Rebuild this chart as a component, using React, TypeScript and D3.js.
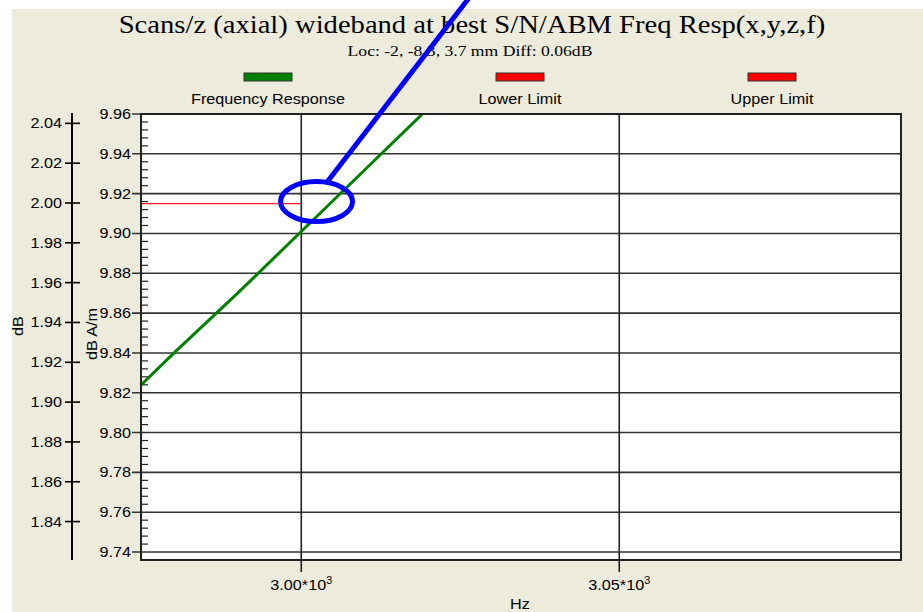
import React from 'react';
import * as d3 from 'd3';

// frequency response (Hz, dB A/m)
const freqHz = [2970, 2980, 2990, 3000, 3010, 3020];
const respDbAm = [9.809, 9.84, 9.87, 9.901, 9.932, 9.963];

// lower limit, drawn up to 3 kHz
const lowerFreq = [2960, 3000];
const lowerDbAm = [9.915, 9.915];

const yTicks = [9.74, 9.76, 9.78, 9.8, 9.82, 9.84, 9.86, 9.88, 9.9, 9.92, 9.94, 9.96];
const dbTicks = [1.84, 1.86, 1.88, 1.9, 1.92, 1.94, 1.96, 1.98, 2.0, 2.02, 2.04];
const xTicks = [3000, 3050];
const xTickLabels = ['3.00*10', '3.05*10'];

const legendNames = ['Frequency Response', 'Lower Limit', 'Upper Limit'];
const legendColors = ['#008000', '#ff0000', '#ff0000'];

// hand-drawn blue highlight (Hz, dB A/m)
const markCenter = [3002.4, 9.916];
const markLine = [
  [3004.1, 9.926],
  [3026.3, 10.018],
];

const W = 923;
const H = 612;
const SX = 1.08; // text in the source is stretched sideways
const SANS = '"Liberation Sans", Arial, sans-serif';
const SERIF = '"Liberation Serif", "Times New Roman", serif';

const plot = { left: 141, right: 901, top: 114, bottom: 560 };

const Txt = ({ x, y, size, family = SANS, anchor = 'middle', rotate = 0, sx = SX, children }: any) => (
  <text
    transform={`translate(${x},${y}) rotate(${rotate}) scale(${sx},1)`}
    fontSize={size}
    fontFamily={family}
    textAnchor={anchor}
    fill='#000'
  >
    {children}
  </text>
);

const App = () => {
  const x = d3.scaleLinear().domain([2974.8, 3094.3]).range([plot.left, plot.right]);
  const y = d3.scaleLinear().domain([9.736, 9.96]).range([plot.bottom, plot.top]);
  // dB axis is the same scale shifted so the lower limit sits at 2.00 dB
  const offset = 9.9153 - 2.0;
  const yDb = d3.scaleLinear().domain([9.736 - offset, 9.96 - offset]).range([plot.bottom, plot.top]);

  const line = d3
    .line<[number, number]>()
    .x((d) => x(d[0]))
    .y((d) => y(d[1]));

  const resp = freqHz.map((f, i) => [f, respDbAm[i]] as [number, number]);
  const lower = lowerFreq.map((f, i) => [f, lowerDbAm[i]] as [number, number]);

  // minor ticks every 0.004
  const minor: number[] = [];
  for (let i = 0; i < yTicks.length - 1; i++) {
    for (let k = 1; k < 5; k++) minor.push(yTicks[i] + k * 0.004);
  }

  const legendX = [268, 520, 772];
  const axisDbX = 72;

  return (
    <svg
      width={W}
      height={H}
      style={{ position: 'absolute', left: 0, top: 0, background: '#fff' }}
    >
      <defs>
        <clipPath id='plot-clip'>
          <rect x={plot.left} y={plot.top} width={plot.right - plot.left} height={plot.bottom - plot.top} />
        </clipPath>
      </defs>
      <rect x={12} y={9} width={W - 12} height={H - 9} fill='#ecebdc' />

      <Txt x={472} y={33} size={26} family={SERIF} sx={1.1}>
        Scans/z (axial) wideband at best S/N/ABM Freq Resp(x,y,z,f)
      </Txt>
      <Txt x={470} y={56} size={14} family={SERIF} sx={1.26}>
        Loc: -2, -8.3, 3.7 mm Diff: 0.06dB
      </Txt>

      {legendNames.map((name, i) => (
        <g key={name}>
          <rect x={legendX[i] - 24} y={73} width={48} height={8} fill={legendColors[i]} stroke='#333' strokeWidth={1} />
          <Txt x={legendX[i]} y={104} size={15}>
            {name}
          </Txt>
        </g>
      ))}

      {/* plot area */}
      <rect x={plot.left} y={plot.top} width={plot.right - plot.left} height={plot.bottom - plot.top} fill='#fff' />

      {yTicks.map((t) => (
        <g key={t}>
          <line x1={plot.left - 9} x2={plot.right} y1={y(t)} y2={y(t)} stroke='#333' strokeWidth={1.6} />
          <Txt x={plot.left - 10} y={y(t) + 5} size={15} anchor='end'>
            {t.toFixed(2)}
          </Txt>
        </g>
      ))}
      {minor.map((t) => (
        <line key={t} x1={plot.left} x2={plot.left + 7} y1={y(t)} y2={y(t)} stroke='#222' strokeWidth={1.2} />
      ))}
      {xTicks.map((t, i) => (
        <g key={t}>
          <line x1={x(t)} x2={x(t)} y1={plot.top} y2={plot.bottom + 12} stroke='#222' strokeWidth={1.6} />
          <Txt x={x(t)} y={590} size={15}>
            {xTickLabels[i]}
            <tspan fontSize={10} dy={-6}>
              3
            </tspan>
          </Txt>
        </g>
      ))}

      <g clipPath='url(#plot-clip)'>
        <path d={line(lower) || ''} fill='none' stroke='#ff2020' strokeWidth={1.3} />
        <path d={line(resp) || ''} fill='none' stroke='#008000' strokeWidth={3} />
      </g>

      <rect
        x={plot.left}
        y={plot.top}
        width={plot.right - plot.left}
        height={plot.bottom - plot.top}
        fill='none'
        stroke='#222'
        strokeWidth={2}
      />

      {/* dB axis */}
      <line x1={axisDbX} x2={axisDbX} y1={plot.top - 1} y2={plot.bottom} stroke='#000' strokeWidth={2} />
      {dbTicks.map((t) => (
        <g key={t}>
          <line x1={axisDbX - 7} x2={axisDbX + 8} y1={yDb(t)} y2={yDb(t)} stroke='#000' strokeWidth={1.6} />
          <Txt x={axisDbX - 10} y={yDb(t) + 5} size={15} anchor='end'>
            {t.toFixed(2)}
          </Txt>
        </g>
      ))}

      <Txt x={23} y={326} size={15} rotate={-90}>
        dB
      </Txt>
      <Txt x={97} y={334} size={15} rotate={-90}>
        dB A/m
      </Txt>
      <Txt x={520} y={609} size={15}>
        Hz
      </Txt>

      {/* highlight */}
      <ellipse
        cx={x(markCenter[0])}
        cy={y(markCenter[1])}
        rx={36}
        ry={20}
        fill='none'
        stroke='#0000ff'
        strokeWidth={5}
      />
      <line
        x1={x(markLine[0][0])}
        y1={y(markLine[0][1])}
        x2={x(markLine[1][0])}
        y2={y(markLine[1][1])}
        stroke='#0000ff'
        strokeWidth={5}
      />
    </svg>
  );
};

export default App;
